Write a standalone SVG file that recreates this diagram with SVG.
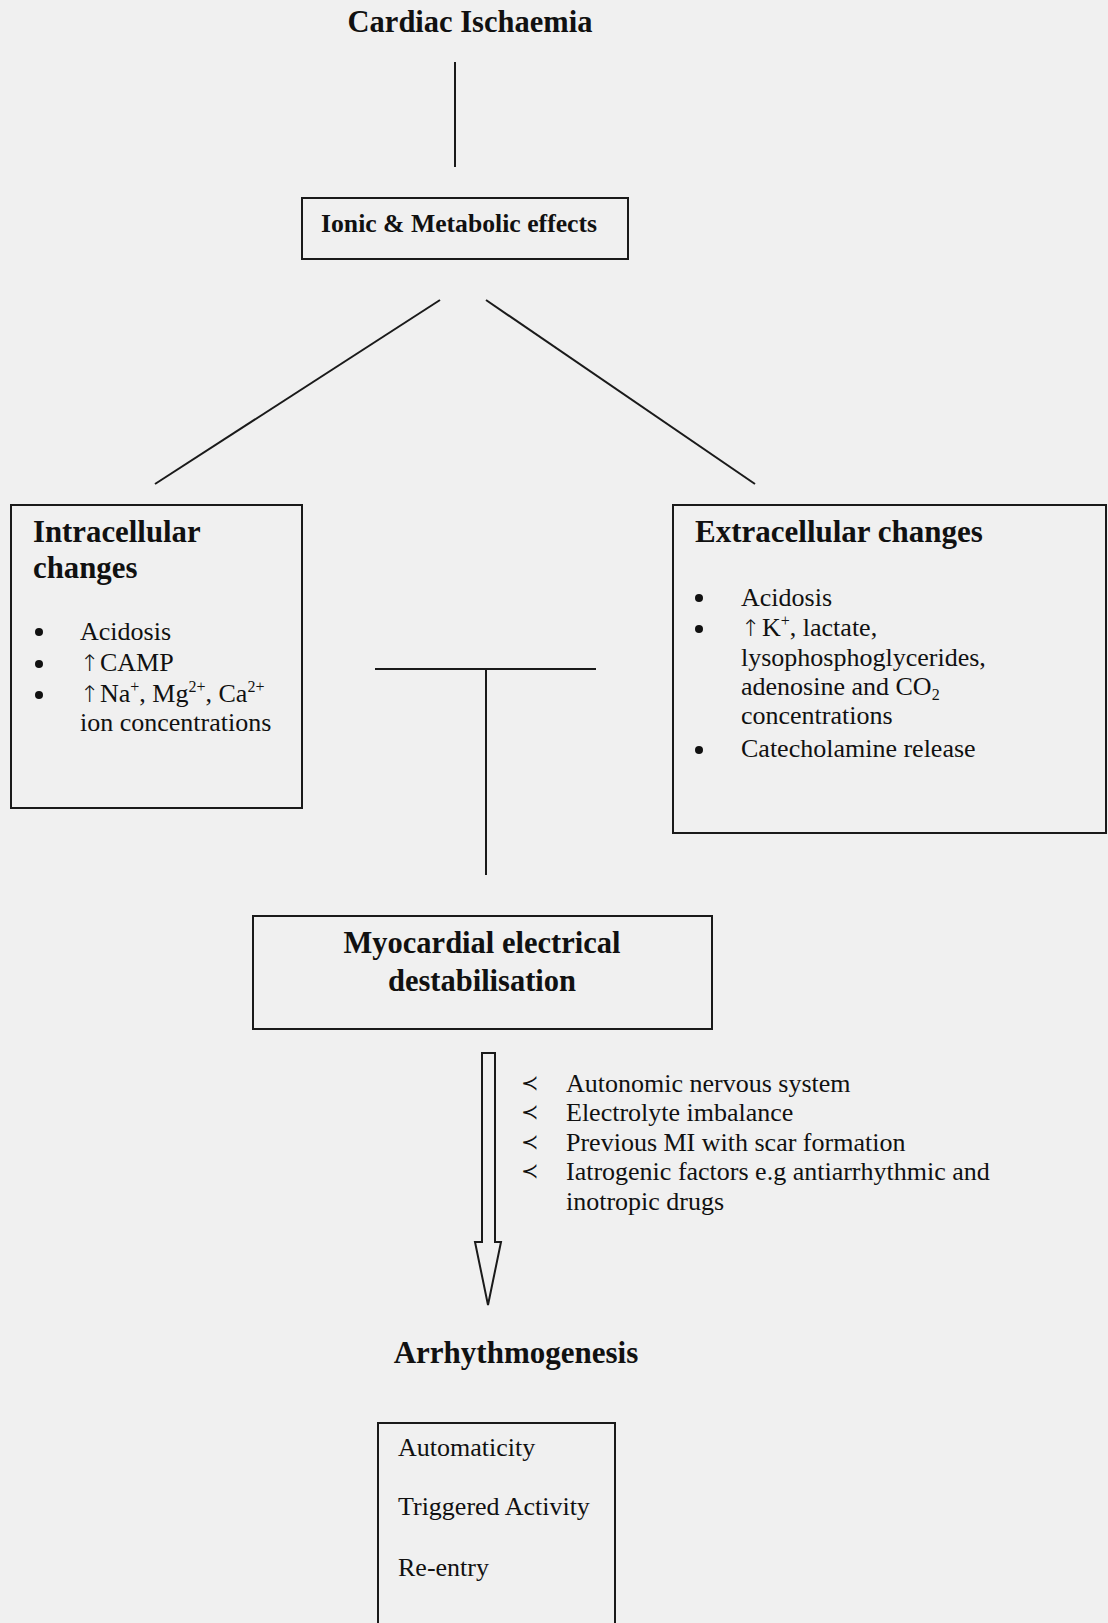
<svg xmlns="http://www.w3.org/2000/svg" width="1108" height="1623" viewBox="0 0 1108 1623">
<style>
.b{font-family:"Liberation Serif","Times New Roman",serif;font-weight:bold;fill:#111}
.r{font-family:"Liberation Serif","Times New Roman",serif;fill:#111;font-size:26px}
.box{fill:none;stroke:#1a1a1a;stroke-width:2}
.ln{stroke:#1a1a1a;stroke-width:2;fill:none}
.sm{font-size:16px}
.up{font-family:"Noto Sans","DejaVu Sans",sans-serif;font-size:23px;font-weight:300;fill:#111}
.chev{font-family:"DejaVu Sans",sans-serif;font-size:21px;fill:#111}
</style>
<rect width="1108" height="1623" fill="#f0f0f0"/>
<g id="connectors">
<line class="ln" x1="455" y1="62" x2="455" y2="167"/>
<line class="ln" x1="440" y1="300" x2="155" y2="484"/>
<line class="ln" x1="486" y1="300" x2="755" y2="484"/>
<line class="ln" x1="375" y1="669" x2="596" y2="669"/>
<line class="ln" x1="486" y1="669" x2="486" y2="875"/>
<path class="ln" d="M482,1053 H495 V1242 H501 L488,1305 L475,1242 H482 Z"/>
</g>
<g id="title">
<text class="b" x="470" y="32" font-size="30.5" text-anchor="middle">Cardiac Ischaemia</text>
</g>
<g id="ionic">
<rect class="box" x="302" y="198" width="326" height="61"/>
<text class="b" x="321" y="232" font-size="25.7">Ionic &amp; Metabolic effects</text>
</g>
<g id="intracellular">
<rect class="box" x="11" y="505" width="291" height="303"/>
<text class="b" x="33" y="542" font-size="30.8">Intracellular</text>
<text class="b" x="33" y="578" font-size="30.8">changes</text>
<circle cx="39" cy="632" r="4" fill="#111"/>
<circle cx="39" cy="664" r="4" fill="#111"/>
<circle cx="39" cy="695" r="4" fill="#111"/>
<text class="r" x="80" y="640">Acidosis</text>
<text class="up" x="80" y="671">↑</text>
<text class="r" x="100" y="671">CAMP</text>
<text class="up" x="80" y="702">↑</text>
<text class="r" x="100" y="702">Na<tspan class="sm" dy="-10">+</tspan><tspan dy="10">, Mg</tspan><tspan class="sm" dy="-10">2+</tspan><tspan dy="10">, Ca</tspan><tspan class="sm" dy="-10">2+</tspan></text>
<text class="r" x="80" y="731">ion concentrations</text>
</g>
<g id="extracellular">
<rect class="box" x="673" y="505" width="433" height="328"/>
<text class="b" x="695" y="542" font-size="31">Extracellular changes</text>
<circle cx="699" cy="598" r="4" fill="#111"/>
<circle cx="699" cy="629" r="4" fill="#111"/>
<circle cx="699" cy="750" r="4" fill="#111"/>
<text class="r" x="741" y="606">Acidosis</text>
<text class="up" x="741" y="636">↑</text>
<text class="r" x="762" y="636">K<tspan class="sm" dy="-10">+</tspan><tspan dy="10">, lactate,</tspan></text>
<text class="r" x="741" y="666">lysophosphoglycerides,</text>
<text class="r" x="741" y="695">adenosine and CO<tspan class="sm" dy="5">2</tspan></text>
<text class="r" x="741" y="724">concentrations</text>
<text class="r" x="741" y="757">Catecholamine release</text>
</g>
<g id="myocardial">
<rect class="box" x="253" y="916" width="459" height="113"/>
<text class="b" x="482" y="953" font-size="30.5" text-anchor="middle">Myocardial electrical</text>
<text class="b" x="482" y="991" font-size="30.5" text-anchor="middle">destabilisation</text>
</g>
<g id="factors">
<text class="chev" x="521" y="1090">≺</text>
<text class="chev" x="521" y="1119">≺</text>
<text class="chev" x="521" y="1149">≺</text>
<text class="chev" x="521" y="1178">≺</text>
<text class="r" x="566" y="1092" font-size="25.6">Autonomic nervous system</text>
<text class="r" x="566" y="1121" font-size="25.6">Electrolyte imbalance</text>
<text class="r" x="566" y="1151" font-size="25.6">Previous MI with scar formation</text>
<text class="r" x="566" y="1180" font-size="25.6">Iatrogenic factors e.g antiarrhythmic and</text>
<text class="r" x="566" y="1210" font-size="25.6">inotropic drugs</text>
</g>
<g id="arrhythmogenesis">
<text class="b" x="516" y="1363" font-size="31" text-anchor="middle">Arrhythmogenesis</text>
</g>
<g id="mechanisms">
<rect class="box" x="378" y="1423" width="237" height="230"/>
<text class="r" x="398" y="1456">Automaticity</text>
<text class="r" x="398" y="1515">Triggered Activity</text>
<text class="r" x="398" y="1576">Re-entry</text>
</g>
</svg>
